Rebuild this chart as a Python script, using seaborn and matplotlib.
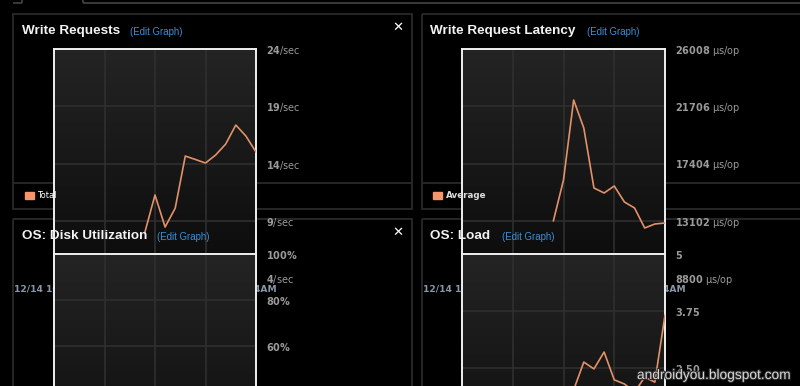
import numpy as np
import pandas as pd
import matplotlib
matplotlib.use("Agg")
import matplotlib.pyplot as plt
import matplotlib.patheffects as pe
from matplotlib.patches import Rectangle
from matplotlib.colors import LinearSegmentedColormap
import seaborn as sns

# ---------------- data ----------------
time_index = list(range(9, 21))  # sample slots (0..20 across each graph)
write_requests = [8.0, 11.25, 8.45, 10.1, 14.65, 14.35, 14.04, 14.74, 15.70, 17.36, 16.40, 15.0]
write_latency = [13084, 16165, 22176, 20072, 15564, 15188, 15714, 14512, 14061, 12558, 12858, 12934]
load_index = list(range(11, 21))
os_load = [2.02, 2.63, 2.48, 2.85, 2.24, 2.15, 1.97, 2.30, 2.19, 3.66]

wr_ticks = [4, 9, 14, 19, 24]
wr_labels = ["4", "9", "14", "19", "24"]
lat_ticks = [8800, 13102, 17404, 21706, 26008]
disk_ticks = [0, 20, 40, 60, 80, 100]
load_ticks = [0, 1.25, 2.5, 3.75, 5]
load_labels = ["0", "1.25", "2.50", "3.75", "5"]
x_tick_pos = [0, 5, 10, 15, 20]
x_label_left = "12/14 10PM"
x_label_right = "12/15 4AM"

# ---------------- style ----------------
sns.set_theme(style="dark")
plt.rcParams["font.family"] = ["DejaVu Sans"]
plt.rcParams["mathtext.fontset"] = "custom"
plt.rcParams["mathtext.bf"] = "DejaVu Sans:bold"
plt.rcParams["mathtext.rm"] = "DejaVu Sans"

W, H = 800, 386
LINE = "#e39168"
TICK = "#9a9a9a"
PANEL = "#2a2a2a"
GRID = "#2f2f2f"

fig = plt.figure(figsize=(W / 100, H / 100), dpi=100, facecolor="black")


def box(x0, y0, x1, y1):
    return [x0 / W, 1 - y1 / H, (x1 - x0) / W, (y1 - y0) / H]


def full_axes(z):
    a = fig.add_axes([0, 0, 1, 1], zorder=z)
    a.set_xlim(0, W)
    a.set_ylim(H, 0)
    a.axis("off")
    a.patch.set_visible(False)
    return a


bg = full_axes(0)
bg.patch.set_visible(True)
bg.patch.set_facecolor("black")

# tab bar
bg.hlines(3, 13, 22, color="#444444", lw=1.2)
bg.vlines(22, 0, 3, color="#444444", lw=1.2)
bg.vlines(83, 0, 3, color="#444444", lw=1.2)
bg.hlines(3, 83, 800, color="#444444", lw=1.2)

# panels
for (x0, y0, w, h) in [(13, 14, 399, 195), (422, 14, 390, 195),
                       (13, 219, 399, 200), (422, 219, 390, 200)]:
    bg.add_patch(Rectangle((x0, y0), w, h, fill=False, ec=PANEL, lw=1.3))
bg.hlines(183, 13, 412, color=PANEL, lw=1.3)
bg.hlines(183, 422, 800, color=PANEL, lw=1.3)

TITLE_KW = dict(fontsize=9.7, fontweight="bold", family="Liberation Sans",
                color="#f2f2f2", va="center", ha="left")
EDIT_KW = dict(fontsize=6.9, family="Liberation Sans", color="#3d8fd6",
               va="center", ha="left")
CLOSE_KW = dict(fontsize=9.5, fontweight="bold", color="white",
                ha="center", va="center", family="DejaVu Sans")

bg.text(22, 31, "Write Requests", **TITLE_KW)
bg.text(130, 32, "(Edit Graph)", **EDIT_KW)
bg.text(430, 31, "Write Request Latency", **TITLE_KW)
bg.text(587, 32, "(Edit Graph)", **EDIT_KW)
bg.text(398, 27, "\u2715", **CLOSE_KW)

# x labels of the upper graphs (partly hidden by the lower graphs)
XL_KW = dict(color="#8797aa", fontsize=6.6, fontweight="bold", va="center")
bg.text(14, 289, x_label_left, ha="left", **XL_KW)
bg.text(277, 289, x_label_right, ha="right", **XL_KW)
bg.text(423, 289, x_label_left, ha="left", **XL_KW)
bg.text(686, 289, x_label_right, ha="right", **XL_KW)

grad = LinearSegmentedColormap.from_list("g", ["#0b0b0b", "#242424"])
gimg = np.linspace(0, 1, 256).reshape(-1, 1)


def style_axes(ax, ylim, ticks, labels):
    ax.imshow(gimg, cmap=grad, aspect="auto", extent=[0, 1, 0, 1],
              transform=ax.transAxes, origin="lower", zorder=0)
    ax.set_xlim(0, 20)
    ax.set_ylim(*ylim)
    ax.set_xticks(x_tick_pos)
    ax.set_xticklabels([])
    ax.set_yticks(ticks)
    ax.set_yticklabels(labels)
    ax.grid(True, color=GRID, lw=1.2)
    ax.set_axisbelow(True)
    ax.tick_params(axis="y", which="both", left=False, right=False,
                   length=0, labelleft=False, labelright=True, pad=7.2,
                   labelsize=7, labelcolor=TICK)
    ax.tick_params(axis="x", bottom=False, labelbottom=False, length=0)
    for s in ax.spines.values():
        s.set_color("#f0f0f0")
        s.set_linewidth(1.4)
        s.set_visible(True)
    ax.set_xlabel("")
    ax.set_ylabel("")


# upper graphs
ax1 = fig.add_axes(box(54, 49, 256, 278), zorder=1)
style_axes(ax1, (4, 24), wr_ticks,
           [r"$\mathbf{%s}$/sec" % t for t in wr_labels])
sns.lineplot(x=time_index, y=write_requests, ax=ax1, color=LINE, lw=1.2, zorder=3)

ax2 = fig.add_axes(box(462, 49, 665, 278), zorder=1)
style_axes(ax2, (8800, 26008), lat_ticks,
           [r"$\mathbf{%d}$ µs/op" % t for t in lat_ticks])
sns.lineplot(x=time_index, y=write_latency, ax=ax2, color=LINE, lw=1.2, zorder=3)

# legends and lower-panel titles, drawn over the upper graphs
ov = full_axes(2)
ov.add_patch(Rectangle((25, 192), 9, 7, color="#f4956a"))
ov.text(37, 196, "Total", color="white", fontsize=6, va="center", ha="left")
ov.add_patch(Rectangle((433, 192), 9, 7, color="#f4956a"))
ov.text(446, 196, "Average", color="#dddddd", fontsize=6.3,
        fontweight="bold", va="center", ha="left")
ov.text(22, 236, "OS: Disk Utilization", **TITLE_KW)
ov.text(157, 237, "(Edit Graph)", **EDIT_KW)
ov.text(430, 236, "OS: Load", **TITLE_KW)
ov.text(502, 237, "(Edit Graph)", **EDIT_KW)
ov.text(398, 232, "\u2715", **CLOSE_KW)

# lower graphs
ax3 = fig.add_axes(box(54, 254, 256, 484), zorder=3)
style_axes(ax3, (0, 100), disk_ticks,
           [r"$\mathbf{%d\%%}$" % t for t in disk_ticks])

ax4 = fig.add_axes(box(462, 254, 665, 482), zorder=3)
style_axes(ax4, (0, 5), load_ticks,
           [r"$\mathbf{%s}$" % t for t in load_labels])
sns.lineplot(x=load_index, y=os_load, ax=ax4, color=LINE, lw=1.2, zorder=3)

for a in (ax1, ax2, ax3, ax4):
    a.set_xlim(0, 20)
    leg = a.get_legend()
    if leg is not None:
        leg.remove()
ax1.set_ylim(4, 24)
ax2.set_ylim(8800, 26008)
ax3.set_ylim(0, 100)
ax4.set_ylim(0, 5)

top = full_axes(5)
top.text(637, 375, "androidyou.blogspot.com", color="#d6d6d6", fontsize=9.9,
         family="Liberation Sans", va="center", ha="left",
         path_effects=[pe.withStroke(linewidth=1.5, foreground="#2a2a2a")])

fig.savefig("out.png", dpi=100, facecolor="black")
